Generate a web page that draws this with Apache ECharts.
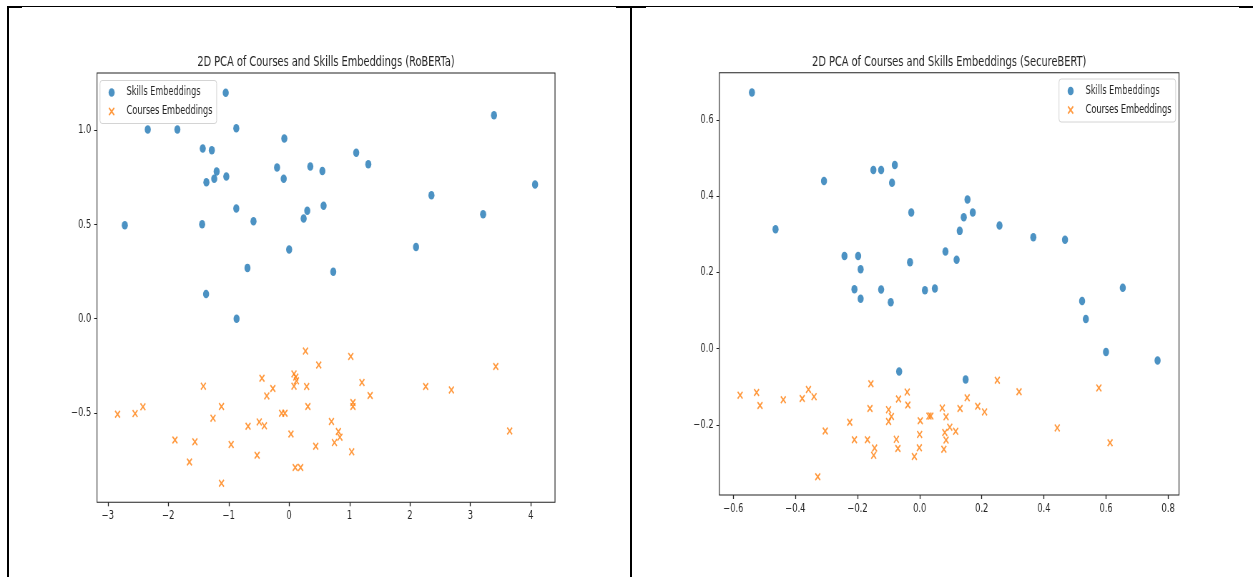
<!DOCTYPE html>
<html>
<head>
<meta charset="utf-8">
<script src="https://cdn.jsdelivr.net/npm/echarts@6/dist/echarts.min.js"></script>
<style>
  html, body { margin: 0; padding: 0; background: #fff; overflow: hidden; width: 1253px; height: 577px; }
  /* the figure is laid out wider and then narrowed horizontally, as in the printed table */
  #stage { position: absolute; left: 0; top: 0; width: 1752px; height: 577px; transform: scaleX(0.715183); transform-origin: 0 0; }
  .rule { position: absolute; background: #000; }
</style>
</head>
<body>
<div id="stage"></div>
<!-- table rules around the two figures -->
<div class="rule" style="left:7px;top:6px;width:1246px;height:1px"></div>
<div class="rule" style="left:7px;top:6px;width:15px;height:2px"></div>
<div class="rule" style="left:616px;top:6px;width:30px;height:2px"></div>
<div class="rule" style="left:1239px;top:6px;width:14px;height:2px"></div>
<div class="rule" style="left:7px;top:6px;width:2px;height:571px"></div>
<div class="rule" style="left:630px;top:6px;width:2px;height:571px"></div>
<script>
// ---- data -------------------------------------------------------------
const seriesNames = ['Skills Embeddings', 'Courses Embeddings'];
const chartTitles = [
  '2D PCA of Courses and Skills Embeddings (RoBERTa)',
  '2D PCA of Courses and Skills Embeddings (SecureBERT)'
];

// RoBERTa projection: [PC1, PC2]
const robertaSkills = [
  [-1.05, 1.20], [-2.34, 1.005], [-1.85, 1.005], [-0.875, 1.012], [-0.08, 0.957],
  [-1.43, 0.904], [-1.28, 0.895], [-0.20, 0.803], [0.35, 0.809], [0.55, 0.784],
  [-1.20, 0.782], [-1.04, 0.755], [-1.24, 0.743], [-1.37, 0.725], [-0.09, 0.743],
  [-0.875, 0.585], [0.30, 0.573], [0.57, 0.60], [0.24, 0.532], [-2.72, 0.496],
  [-1.44, 0.502], [-0.59, 0.518], [0.0, 0.367], [3.39, 1.081], [1.11, 0.881],
  [1.31, 0.821], [4.07, 0.713], [2.355, 0.656], [3.21, 0.555], [2.10, 0.381],
  [-0.69, 0.27], [-1.375, 0.131], [-0.87, 0.0], [0.73, 0.25]
];
const robertaCourses = [
  [0.27, -0.172], [0.49, -0.246], [-0.45, -0.316], [0.08, -0.293], [0.11, -0.31],
  [0.12, -0.33], [0.08, -0.358], [0.29, -0.36], [-0.27, -0.371], [-0.37, -0.41],
  [-1.42, -0.358], [-2.42, -0.468], [-2.84, -0.507], [-2.55, -0.504], [-1.12, -0.466],
  [-1.26, -0.528], [0.31, -0.466], [-0.125, -0.502], [-0.07, -0.502], [-0.68, -0.571],
  [-0.495, -0.548], [-0.41, -0.569], [0.03, -0.612], [-1.89, -0.644], [-1.56, -0.654],
  [-0.96, -0.668], [0.44, -0.677], [-0.53, -0.725], [-1.65, -0.761], [0.10, -0.79],
  [0.19, -0.79], [-1.12, -0.874], [1.02, -0.20], [1.205, -0.339], [1.34, -0.408],
  [1.056, -0.445], [1.056, -0.466], [2.26, -0.36], [2.685, -0.378], [3.42, -0.254],
  [0.70, -0.546], [0.815, -0.599], [0.84, -0.629], [0.75, -0.658], [1.035, -0.707],
  [3.65, -0.596]
];

// SecureBERT projection: [PC1, PC2]
const secureSkills = [
  [-0.540, 0.672], [-0.308, 0.44], [-0.464, 0.313], [-0.149, 0.469], [-0.124, 0.469],
  [-0.080, 0.482], [-0.089, 0.435], [-0.027, 0.357], [-0.242, 0.243], [-0.198, 0.243],
  [-0.031, 0.227], [-0.19, 0.208], [0.154, 0.391], [0.142, 0.345], [0.171, 0.357],
  [0.129, 0.309], [0.257, 0.323], [0.366, 0.292], [0.468, 0.286], [0.083, 0.255],
  [0.119, 0.233], [-0.21, 0.156], [-0.19, 0.131], [-0.124, 0.155], [-0.093, 0.122],
  [0.017, 0.153], [-0.066, -0.06], [0.049, 0.158], [0.523, 0.125], [0.535, 0.078],
  [0.654, 0.16], [0.60, -0.009], [0.766, -0.031], [0.148, -0.081]
];
const secureCourses = [
  [-0.578, -0.122], [-0.525, -0.115], [-0.514, -0.149], [-0.439, -0.134], [-0.378, -0.131],
  [-0.358, -0.107], [-0.34, -0.126], [-0.304, -0.216], [-0.328, -0.336], [-0.157, -0.092],
  [-0.16, -0.157], [-0.225, -0.193], [-0.21, -0.239], [-0.168, -0.239], [-0.145, -0.261],
  [-0.148, -0.28], [-0.10, -0.16], [-0.091, -0.178], [-0.10, -0.191], [-0.068, -0.132],
  [-0.04, -0.114], [-0.038, -0.148], [-0.075, -0.238], [-0.07, -0.262], [-0.017, -0.283],
  [0.002, -0.189], [0.0, -0.225], [-0.001, -0.26], [0.030, -0.177], [0.036, -0.177],
  [0.073, -0.156], [0.085, -0.179], [0.097, -0.206], [0.081, -0.22], [0.085, -0.24],
  [0.078, -0.264], [0.116, -0.217], [0.13, -0.157], [0.153, -0.129], [0.187, -0.151],
  [0.209, -0.166], [0.25, -0.083], [0.32, -0.113], [0.443, -0.208], [0.577, -0.103],
  [0.613, -0.247]
];

// tick positions
const robertaXTicks = [-3, -2, -1, 0, 1, 2, 3, 4];
const robertaYTicks = [-0.5, 0, 0.5, 1.0];
const secureXTicks = [-0.6, -0.4, -0.2, 0, 0.2, 0.4, 0.6, 0.8];
const secureYTicks = [-0.2, 0, 0.2, 0.4, 0.6];

// ---- styling ----------------------------------------------------------
const SX = 1253 / 1752;            // horizontal narrowing of the stage
const X = v => v / SX;             // page x -> stage x
const FONT = "'DejaVu Sans', sans-serif";
const INK = '#262626';
const BLUE = '#1f77b4';
const ORANGE = '#ff7f0e';
const ALPHA = 0.8;
const CROSS = 'path://M0,1.5L1.5,0L5,3.5L8.5,0L10,1.5L6.5,5L10,8.5L8.5,10L5,6.5L1.5,10L0,8.5L3.5,5Z';

const fmt = (v, d) => v.toFixed(d).replace('-', '\u2212');

function axis(kind, gridIndex, min, max, ticks, decimals) {
  return {
    type: 'value', gridIndex, min, max,
    splitLine: { show: false },
    axisLine: { show: false, onZero: false },
    axisTick: { show: true, length: 4, customValues: ticks,
      lineStyle: { color: '#222', width: kind === 'x' ? 1.3 : 1 } },
    axisLabel: { customValues: ticks, margin: 8, fontFamily: FONT, fontSize: 11.6,
      color: INK, formatter: v => fmt(v, decimals) }
  };
}

// legend icon box is wide so that the label sits a full handle length after the marker
function legend(left, top) {
  return {
    orient: 'vertical', left: X(left), top,
    selectedMode: false,
    padding: [5, 6, 5, 12],
    itemGap: 5, itemWidth: 32, itemHeight: 8.5,
    backgroundColor: 'rgba(255,255,255,0.8)',
    borderColor: '#d4d4d4', borderWidth: 1, borderRadius: 3,
    textStyle: { fontFamily: FONT, fontSize: 11.4, color: INK, lineHeight: 14 },
    data: [
      { name: seriesNames[0], icon: 'circle', itemStyle: { color: BLUE, opacity: ALPHA } },
      { name: seriesNames[1], icon: CROSS, itemStyle: { color: ORANGE, opacity: ALPHA } }
    ]
  };
}

function scatter(name, idx, data) {
  const skills = name === seriesNames[0];
  return {
    type: 'scatter', name, xAxisIndex: idx, yAxisIndex: idx, data,
    symbol: skills ? 'circle' : CROSS,
    symbolSize: skills ? 8.5 : 8,
    itemStyle: { color: skills ? BLUE : ORANGE, opacity: ALPHA },
    silent: true
  };
}

const chart = echarts.init(document.getElementById('stage'), null,
  { width: 1752, height: 577, renderer: 'canvas' });

chart.setOption({
  animation: false,
  backgroundColor: '#fff',
  title: [
    { text: chartTitles[0], left: X(326), top: 62, padding: 0,
      textAlign: 'center', textVerticalAlign: 'middle',
      textStyle: { fontFamily: FONT, fontSize: 13.7, fontWeight: 'normal', color: INK } },
    { text: chartTitles[1], left: X(949.2), top: 62, padding: 0,
      textAlign: 'center', textVerticalAlign: 'middle',
      textStyle: { fontFamily: FONT, fontSize: 13.7, fontWeight: 'normal', color: INK } }
  ],
  legend: [legend(100, 80.5), legend(1059, 79)],
  grid: [
    { left: X(97), width: X(555) - X(97), top: 73, height: 429.3,
      show: true, borderColor: '#222', borderWidth: 1.1, backgroundColor: 'transparent' },
    { left: X(719.3), width: X(1179) - X(719.3), top: 72.7, height: 422.3,
      show: true, borderColor: '#222', borderWidth: 1.1, backgroundColor: 'transparent' }
  ],
  xAxis: [
    axis('x', 0, -3.18, 4.40, robertaXTicks, 0),
    axis('x', 1, -0.645, 0.835, secureXTicks, 1)
  ],
  yAxis: [
    axis('y', 0, -0.975, 1.305, robertaYTicks, 1),
    axis('y', 1, -0.384, 0.724, secureYTicks, 1)
  ],
  series: [
    scatter(seriesNames[0], 0, robertaSkills),
    scatter(seriesNames[1], 0, robertaCourses),
    scatter(seriesNames[0], 1, secureSkills),
    scatter(seriesNames[1], 1, secureCourses)
  ]
});
</script>
</body>
</html>
